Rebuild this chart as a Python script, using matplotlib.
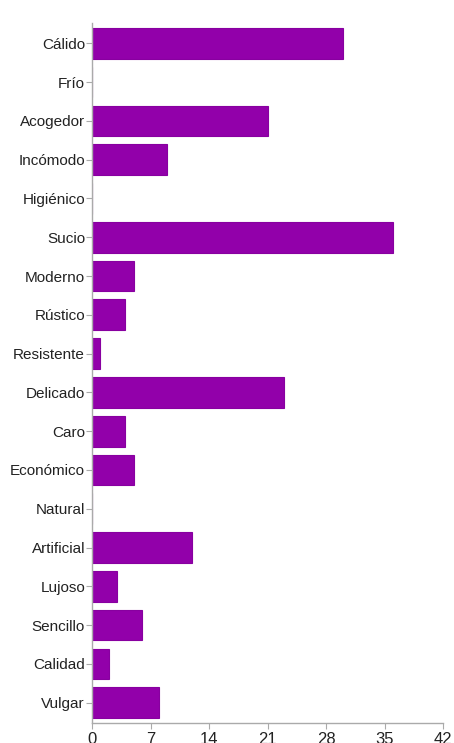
import matplotlib
matplotlib.use("Agg")
import matplotlib.pyplot as plt

categories = ["Cálido", "Frío", "Acogedor", "Incómodo", "Higiénico", "Sucio",
              "Moderno", "Rústico", "Resistente", "Delicado", "Caro", "Económico",
              "Natural", "Artificial", "Lujoso", "Sencillo", "Calidad", "Vulgar"]
values = [30, 0, 21, 9, 0, 36, 5, 4, 1, 23, 4, 5, 0, 12, 3, 6, 2, 8]
xticks = [0, 7, 14, 21, 28, 35, 42]

plt.rcParams['font.family'] = ['Liberation Sans', 'DejaVu Sans']

fig = plt.figure(figsize=(4.54, 7.43), dpi=100)
ax = fig.add_axes([92 / 454, (743 - 723.3) / 743, (443.3 - 92) / 454, (723.3 - 22.7) / 743])

y = list(range(len(categories)))
ax.barh(y, values, height=0.79, color="#9200aa", edgecolor="#8800a0", linewidth=0.8)

ax.set_xlim(0, 42)
ax.set_ylim(len(categories) - 1 + 0.53, -0.53)
ax.set_yticks(y)
ax.set_yticklabels(categories, fontsize=11, color="#222222")
ax.set_xticks(xticks)
ax.set_xticklabels([str(t) for t in xticks], fontsize=12, color="#222222")

for side in ["top", "right"]:
    ax.spines[side].set_visible(False)
for side in ["left", "bottom"]:
    ax.spines[side].set_color("#aaaaaa")
    ax.spines[side].set_linewidth(1.0)
ax.tick_params(axis="both", colors="#aaaaaa", length=4, width=0.8, labelcolor="#222222")
ax.tick_params(axis="y", pad=1)
ax.tick_params(axis="x", pad=2)

fig.savefig("out.png", dpi=100)
